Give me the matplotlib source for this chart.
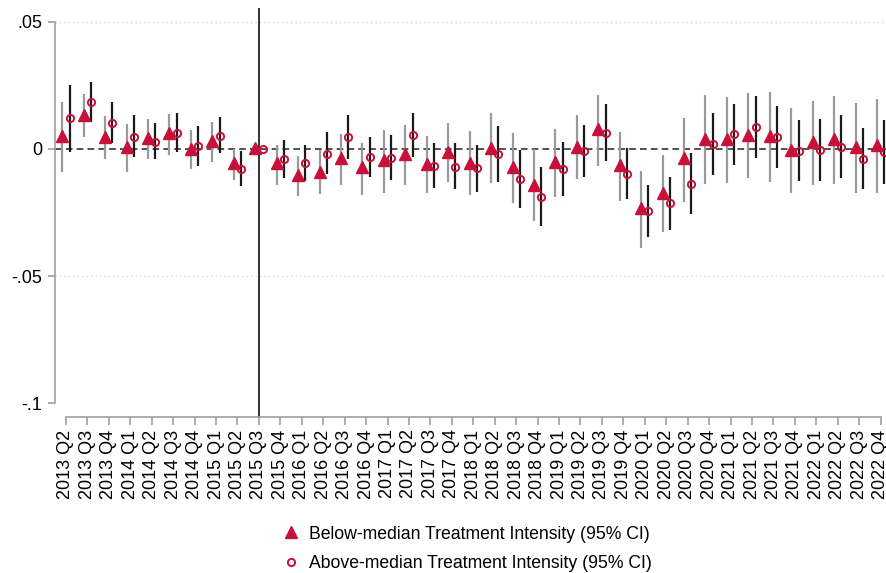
import matplotlib
matplotlib.use("Agg")
import matplotlib.pyplot as plt
from matplotlib.lines import Line2D
import numpy as np

plt.rcParams['font.family'] = ['Liberation Sans', 'DejaVu Sans']

quarters = [f"{y} Q{q}" for y in range(2013, 2023) for q in range(1, 5)][1:]

# below-median treatment intensity: estimate, lower, upper
below_est = [0.0051, 0.0134, 0.0048, 0.0009, 0.0045, 0.0062, 0.0000, 0.0033, -0.0056, 0.0003,
             -0.0056, -0.0102, -0.0089, -0.0037, -0.0072, -0.0043, -0.0020, -0.0059, -0.0011, -0.0054,
             0.0005, -0.0072, -0.0142, -0.0050, 0.0007, 0.0079, -0.0064, -0.0234, -0.0172, -0.0037,
             0.0039, 0.0039, 0.0055, 0.0052, -0.0004, 0.0029, 0.0038, 0.0007, 0.0016]
below_lo = [-0.0089, 0.0048, -0.0041, -0.0089, -0.0041, -0.0024, -0.0079, -0.0052, -0.0122, 0.0003,
            -0.0142, -0.0185, -0.0179, -0.0142, -0.0181, -0.0174, -0.0142, -0.0174, -0.0129, -0.0181,
            -0.0135, -0.0211, -0.0282, -0.0190, -0.0119, -0.0067, -0.0203, -0.0389, -0.0328, -0.0207,
            -0.0139, -0.0133, -0.0115, -0.0129, -0.0174, -0.0142, -0.0138, -0.0172, -0.0172]
below_hi = [0.0186, 0.0215, 0.0131, 0.0098, 0.0118, 0.0138, 0.0075, 0.0107, 0.0000, 0.0003,
            0.0016, -0.0029, -0.0004, 0.0059, 0.0025, 0.0075, 0.0094, 0.0052, 0.0101, 0.0071,
            0.0141, 0.0062, -0.0001, 0.0079, 0.0134, 0.0213, 0.0066, -0.0087, -0.0024, 0.0123,
            0.0213, 0.0206, 0.0222, 0.0226, 0.0160, 0.0190, 0.0209, 0.0182, 0.0197]

# above-median treatment intensity: estimate, lower, upper
above_est = [0.0121, 0.0184, 0.0104, 0.0048, 0.0029, 0.0064, 0.0013, 0.0052, -0.0079, 0.0000,
             -0.0041, -0.0055, -0.0020, 0.0046, -0.0030, -0.0037, 0.0055, -0.0067, -0.0070, -0.0076,
             -0.0021, -0.0118, -0.0188, -0.0080, -0.0007, 0.0064, -0.0098, -0.0244, -0.0214, -0.0138,
             0.0018, 0.0058, 0.0088, 0.0046, -0.0007, -0.0004, 0.0007, -0.0039, -0.0013]
above_lo = [-0.0011, 0.0105, 0.0025, -0.0033, -0.0041, -0.0011, -0.0067, -0.0017, -0.0144, 0.0000,
            -0.0115, -0.0125, -0.0100, -0.0041, -0.0111, -0.0122, -0.0030, -0.0155, -0.0159, -0.0168,
            -0.0129, -0.0231, -0.0303, -0.0185, -0.0109, -0.0046, -0.0198, -0.0345, -0.0319, -0.0256,
            -0.0102, -0.0063, -0.0034, -0.0073, -0.0126, -0.0126, -0.0115, -0.0159, -0.0139]
above_hi = [0.0252, 0.0265, 0.0184, 0.0134, 0.0101, 0.0143, 0.0092, 0.0125, -0.0007, 0.0000,
            0.0035, 0.0016, 0.0066, 0.0134, 0.0048, 0.0054, 0.0141, 0.0022, 0.0022, 0.0016,
            0.0091, -0.0004, -0.0070, 0.0026, 0.0094, 0.0177, 0.0003, -0.0142, -0.0109, -0.0017,
            0.0143, 0.0176, 0.0209, 0.0169, 0.0114, 0.0118, 0.0134, 0.0084, 0.0114]

ref_quarter = "2015 Q3"
red = "#c8103a"

x = np.arange(len(quarters))
ref = quarters.index(ref_quarter)
has_ci = x != ref

fig = plt.figure(figsize=(8.86, 5.73), dpi=100)
ax = fig.add_axes([55 / 886, 1 - 417 / 573, 831 / 886, 409 / 573])

ax.axhline(0, color="#333333", lw=1.2, ls=(0, (4, 2.5)), zorder=1)
for g in (0.05, -0.05):
    ax.axhline(g, color="#cccccc", lw=0.8, ls=(0, (1, 3)), zorder=0)
ax.axvline(ref, color="#222222", lw=1.3, zorder=1)

off = 0.17
ax.vlines(x[has_ci] - off, np.array(below_lo)[has_ci], np.array(below_hi)[has_ci],
          color="#9a9a9a", lw=1.6, zorder=2)
ax.vlines(x[has_ci] + off, np.array(above_lo)[has_ci], np.array(above_hi)[has_ci],
          color="#1a1a1a", lw=1.6, zorder=2)
ax.plot(x - off, below_est, ls="none", marker="^", ms=8, color=red,
        markeredgecolor=red, zorder=3)
ax.plot(x + off, above_est, ls="none", marker="o", ms=5.2, mfc="none",
        mec=red, mew=1.4, zorder=3)

ax.set_xlim(-0.51, 38.25)
ax.set_ylim(-0.1055, 0.0555)
ax.set_yticks([0.05, 0, -0.05, -0.1])
ax.set_yticklabels([".05", "0", "-.05", "-.1"], fontsize=13)
ax.set_xticks(x)
ax.set_xticklabels(quarters, rotation=90, fontsize=13)

for s in ("top", "right"):
    ax.spines[s].set_visible(False)
ax.spines["left"].set_bounds(-0.1, 0.05)
ax.spines["bottom"].set_bounds(0, len(quarters) - 1)
for s in ("left", "bottom"):
    ax.spines[s].set_color("#a0a0a0")
    ax.spines[s].set_linewidth(1.2)
ax.tick_params(axis="both", colors="#a0a0a0", labelcolor="black", width=1.2, length=5)
ax.tick_params(axis="y", pad=4)
ax.tick_params(axis="x", length=6, pad=3)

handles = [
    Line2D([], [], ls="none", marker="^", ms=8, color=red),
    Line2D([], [], ls="none", marker="o", ms=5.2, mfc="none", mec=red, mew=1.4),
]
labels = ["Below-median Treatment Intensity (95% CI)",
          "Above-median Treatment Intensity (95% CI)"]
fig.legend(handles, labels, loc="center left", bbox_to_anchor=(282 / 886, 1 - 549 / 573),
           frameon=False, fontsize=12.7, handletextpad=0.55, labelspacing=0.72,
           handlelength=1.0, borderpad=0, borderaxespad=0)

fig.savefig("out.png", dpi=100)
